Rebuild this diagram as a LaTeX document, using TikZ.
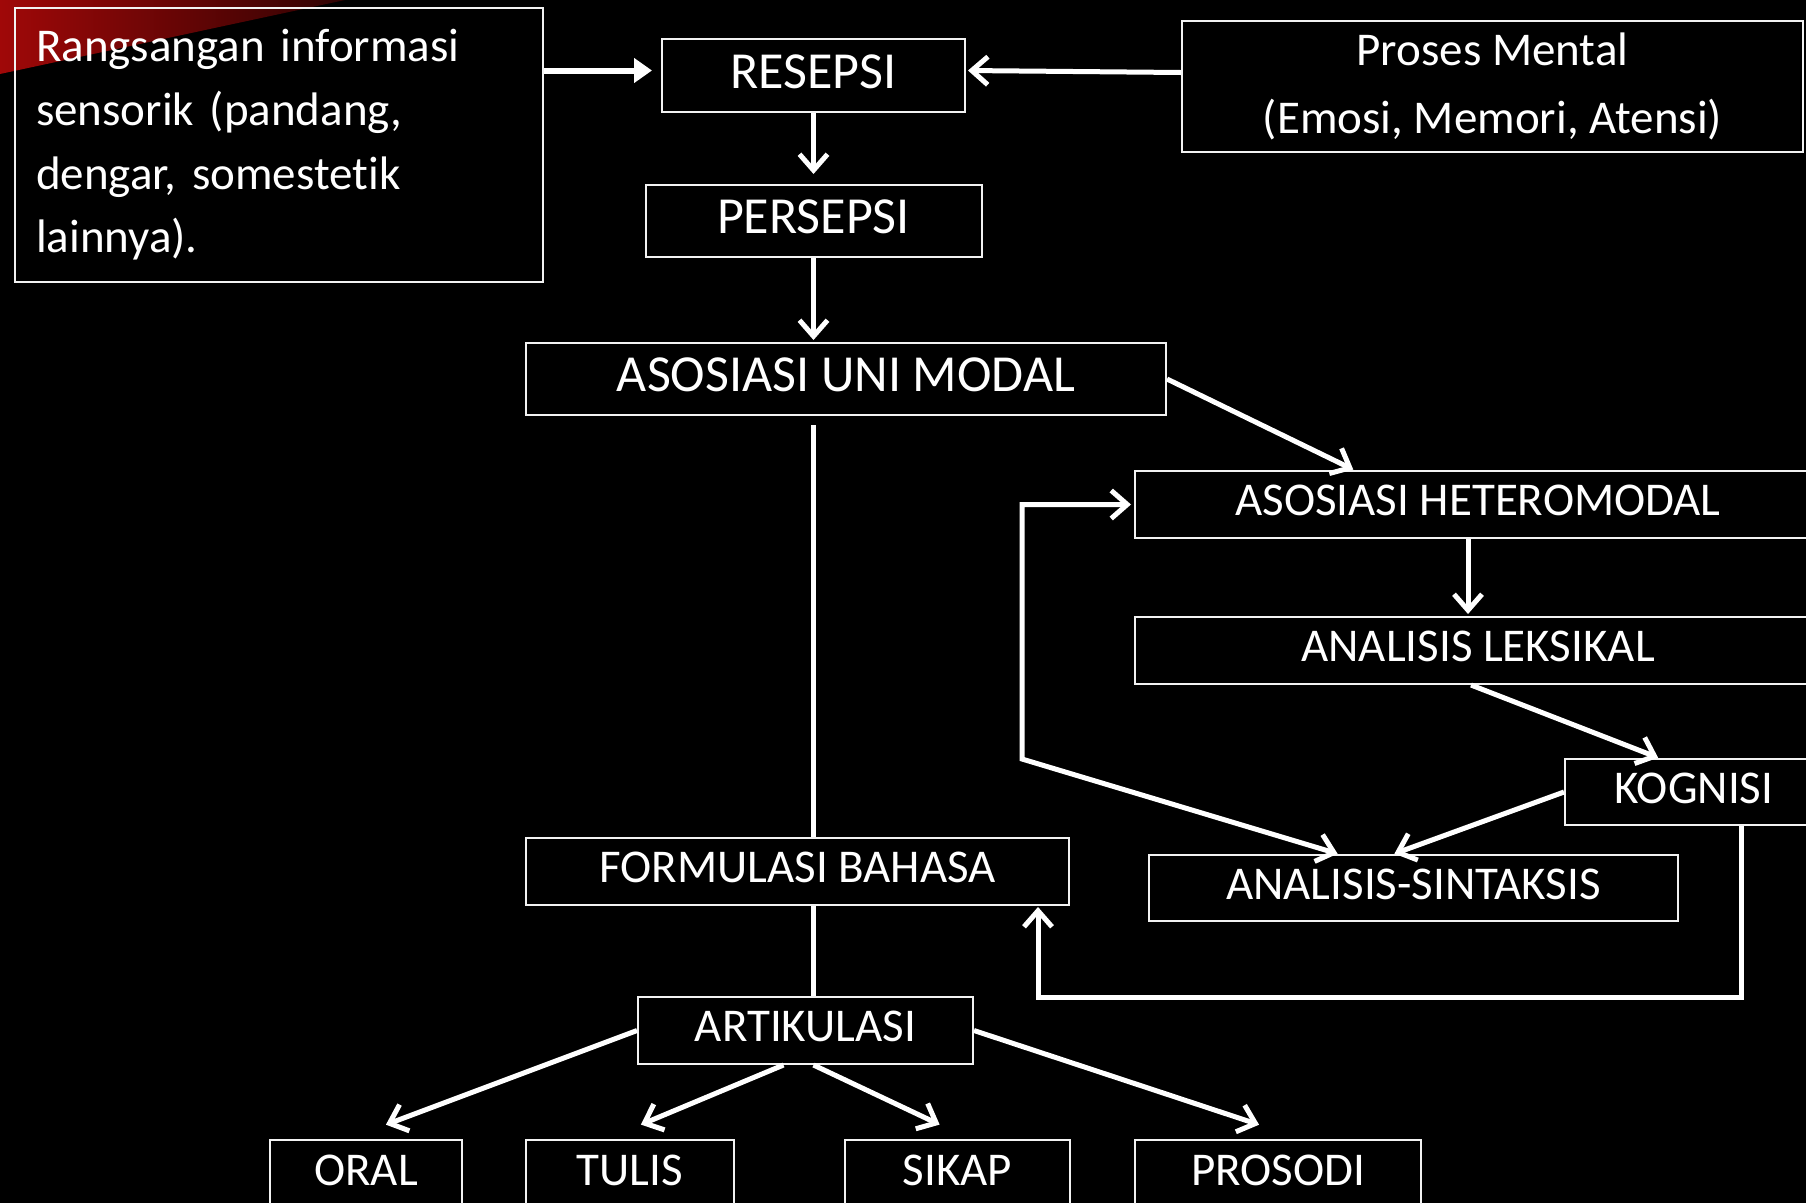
\documentclass[tikz,border=0pt]{standalone}
\usepackage{fontspec}
\setmainfont{Carlito}[Ligatures=NoCommon]
\usetikzlibrary{positioning,arrows.meta,calc}
\definecolor{SlideRed}{HTML}{A00808}
\definecolor{SlideLine}{HTML}{F2F2F2}

\begin{document}
\begin{tikzpicture}[
      x=1pt, y=-1pt,
      font=\fontsize{47}{56}\selectfont,
      box/.style={
        draw=SlideLine, line width=2pt, text=white,
        align=center, inner sep=0pt, minimum height=67pt, text depth=8pt
      },
      bigbox/.style={box, font=\fontsize{52}{60}\selectfont, minimum height=72pt},
      footbox/.style={box, anchor=north, minimum height=76pt, text depth=16pt},
      arr/.style={-{Straight Barb[length=16pt,width=28pt]}, line width=5pt, white, shorten >=12pt},
      link/.style={line width=5pt, white}
    ]
      \fill[black] (0,0) rectangle (1806,1203);
      \useasboundingbox (0,0) rectangle (1806,1203);
      \shade[left color=SlideRed, right color=SlideRed!30!black] (0,0) -- (345,0) -- (0,74) -- cycle;
      \node[box, anchor=north west, minimum width=528pt, minimum height=274pt, text width=486pt, text depth=,
        align=left, inner xsep=21pt, font=\fontsize{47}{63.7}\selectfont] (rangsang) at (14,7)
        {Rangsangan informasi\\sensorik (pandang,\\dengar, somestetik\\lainnya).};
      \node[bigbox, minimum width=303pt, minimum height=73pt] (resepsi) at (813.5,75.5) {RESEPSI};
      \node[box, minimum width=621pt, minimum height=131pt, text depth=, font=\fontsize{47}{68}\selectfont] (mental) at (1492.5,86.5) {Proses Mental\\(Emosi, Memori, Atensi)};
      \node[bigbox, minimum width=336pt, below=71pt of resepsi] (persepsi) {PERSEPSI};
      \node[bigbox, minimum width=640pt] (uni) at (846,379) {ASOSIASI UNI MODAL};
      \node[box, minimum width=686pt] (hetero) at (1478,504.5) {ASOSIASI HETEROMODAL};
      \node[box, minimum width=686pt, below=77pt of hetero] (leksikal) {ANALISIS LEKSIKAL};
      \node[box, minimum width=258pt, minimum height=66pt] (kognisi) at (1694,792) {KOGNISI};
      \node[box, minimum width=529pt, minimum height=66pt] (sintaksis) at (1413.5,888) {ANALISIS-SINTAKSIS};
      \node[box, minimum width=543pt] (formulasi) at (797.5,871.5) {FORMULASI BAHASA};
      \node[box, minimum width=335pt, below=90pt of formulasi, xshift=8pt] (artikulasi) {ARTIKULASI};
      \node[footbox, minimum width=192pt] (oral) at (366,1139) {ORAL};
      \node[footbox, minimum width=208pt] (tulis) at (630,1139) {TULIS};
      \node[footbox, minimum width=225pt] (sikap) at (957.5,1139) {SIKAP};
      \node[footbox, minimum width=286pt] (prosodi) at (1278,1139) {PROSODI};
      \coordinate (loopbend) at (1022,759);
      \coordinate (fbright) at (1741,997);
      \coordinate (fbleft) at (1038,997);
      \draw[arr, -{Triangle[length=18pt,width=24pt]}, line width=6pt, shorten >=9pt] ([yshift=5pt]rangsang.east |- resepsi.west) -- ([yshift=5pt]resepsi.west);
      \draw[arr, shorten >=2pt] ([yshift=14pt]mental.west) -- ([yshift=5pt]resepsi.east);
      \draw[arr, shorten >=10pt] (resepsi.south) -- (persepsi.north);
      \draw[arr, shorten >=2pt] (persepsi.south) -- (persepsi.south |- uni.north);
      \draw[arr, shorten >=1pt] (uni.east) -- ($(hetero.north west)!0.32!(hetero.north east)$);
      \draw[link, shorten <=9pt] (uni.south -| persepsi.south) -- (formulasi.north -| persepsi.south);
      \draw[link] (formulasi.south -| persepsi.south) -- (artikulasi.north -| persepsi.south);
      \draw[arr, shorten >=2pt] ([xshift=-10pt]hetero.south) -- ([xshift=-10pt]leksikal.north);
      \draw[arr, shorten >=1pt] ([xshift=-7pt]leksikal.south) -- ([xshift=-35pt]kognisi.north);
      \draw[arr, shorten >=1pt] (kognisi.west) -- ([xshift=-20pt]sintaksis.north);
      \draw[arr, {Straight Barb[length=16pt,width=28pt]}-{Straight Barb[length=16pt,width=28pt]}, shorten <=1pt, shorten >=3pt]
        ([xshift=-75pt]sintaksis.north) -- (loopbend) -- (loopbend |- hetero.west) -- (hetero.west);
      \draw[arr, shorten >=1pt] ([xshift=47pt]kognisi.south) -- (fbright) -- (fbleft) -- (fbleft |- formulasi.south);
      \draw[arr, shorten >=1pt] (artikulasi.west) -- ([xshift=19pt,yshift=14pt]oral.north);
      \draw[arr, shorten >=1pt] ([xshift=-22pt]artikulasi.south) -- ([xshift=10pt,yshift=14pt]tulis.north);
      \draw[arr, shorten >=1pt] ([xshift=8pt]artikulasi.south) -- ([xshift=-17pt,yshift=14pt]sikap.north);
      \draw[arr, shorten >=1pt] (artikulasi.east) -- ([xshift=-18pt,yshift=14pt]prosodi.north);
    \end{tikzpicture}
\end{document}
